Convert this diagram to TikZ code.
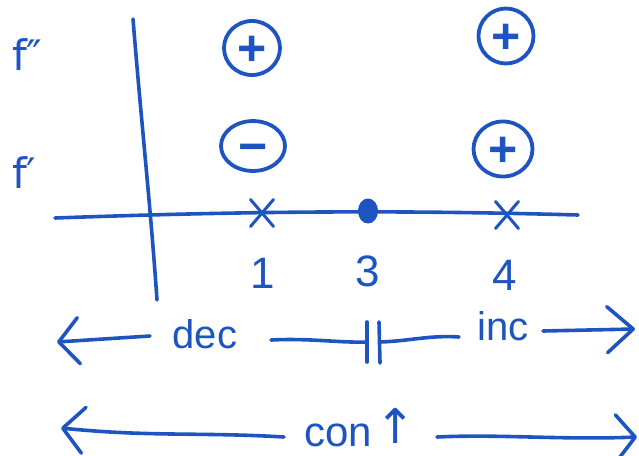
\documentclass[tikz,border=0pt]{standalone}
\usepackage{fontspec}
\setmainfont{Liberation Sans}
\newfontfamily\djv{DejaVu Sans}
\usetikzlibrary{arrows.meta,shapes.geometric,shapes.misc}
\definecolor{ink}{RGB}{30,84,192}
\tikzset{
  pen/.style={draw=ink,line width=3.6pt,line cap=round,line join=round},
  arr/.style={pen,-{Straight Barb[length=#1,width=46pt,round]}},
  arr/.default=20pt,
  txt/.style={text=ink,font=\fontsize{40}{44}\selectfont,anchor=base,inner sep=0pt},
  flbl/.style={text=ink,font=\djv\fontsize{42}{46}\selectfont,anchor=base west,inner sep=0pt},
  sgn/.style={pen,line width=3.8pt,ellipse,inner sep=0pt,text=ink,
    font=\bfseries\fontsize{50}{54}\selectfont,text height=35.3pt,text depth=0pt},
  xmark/.style={pen,line width=3pt,cross out,minimum width=20pt,minimum height=24pt,inner sep=0pt},
}
\begin{document}
\begin{tikzpicture}[x=1pt,y=-1pt]
\useasboundingbox (0,0) rectangle (639,455);
% labels
\node[flbl] (fpp) at (12,70) {f″};
\node[flbl] (fp) at (12,188) {f′};
% axes
\coordinate (vT) at (133,19);
\coordinate (vB) at (157,300);
\draw[pen] (vT) .. controls (142,130) and (150,200) .. (vB);
\coordinate (hL) at (55,218);
\coordinate (hR) at (578,215);
\draw[pen] (hL) .. controls (250,211) and (400,210) .. (hR);
% sign circles
\node[sgn,minimum width=56pt,minimum height=54pt] (s1) at (252,48) {+};
\node[sgn,minimum width=64pt,minimum height=48pt] (s2) at (253,146) {−};
\node[sgn,minimum width=55pt,minimum height=55pt] (s3) at (506,36) {+};
\node[sgn,minimum width=59pt,minimum height=55pt] (s4) at (503,149) {+};
% marks on axis
\node[xmark] (x1) at (262,213) {};
\node[pen,fill=ink,ellipse,minimum width=19pt,minimum height=24pt,inner sep=0pt,line width=1pt] (d3) at (368,211) {};
\node[xmark] (x4) at (507,215) {};
% numbers
\node[txt,font=\fontsize{44}{48}\selectfont] (n1) at (263,288) {1};
\node[txt,font=\fontsize{44}{48}\selectfont] (n3) at (368,286) {3};
\node[txt,font=\fontsize{44}{48}\selectfont] (n4) at (505,290) {4};
% dec / inc row
\node[txt] (dec) at (205,348) {dec};
\node[txt] (inc) at (503,340) {inc};
\coordinate (dL) at (57,342);
\coordinate (dLs) at (150,336);
\draw[arr=20pt] (dLs) -- (dL);
\coordinate (mA) at (271,340);
\coordinate (t1) at (367,342);
\coordinate (t1u) at (367,322);
\coordinate (t1d) at (367,362);
\coordinate (t2u) at (379,322);
\coordinate (t2d) at (380,363);
\coordinate (t2) at (380,342);
\coordinate (mB) at (459,337);
\draw[pen] (mA) .. controls (310,338) and (340,343) .. (t1);
\draw[pen] (t1u) -- (t1d);
\draw[pen] (t2u) -- (t2d);
\draw[pen] (t2) .. controls (410,341) and (430,335) .. (mB);
\coordinate (iR) at (543,331);
\coordinate (iT) at (635,329);
\draw[arr=26pt] (iR) -- (iT);
% con row
\node[txt,font=\fontsize{42}{46}\selectfont] (con) at (338,446) {con};
\node[txt,font=\djv\fontsize{48}{52}\selectfont] (up) at (396,443) {↑};
\coordinate (cLs) at (284,437);
\coordinate (cL) at (61,428);
\draw[arr=21pt] (cLs) .. controls (200,432) and (150,437) .. (cL);
\coordinate (cRs) at (437,437);
\coordinate (cR) at (637,437);
\draw[arr=19pt] (cRs) .. controls (500,434) and (560,440) .. (cR);
\end{tikzpicture}
\end{document}
